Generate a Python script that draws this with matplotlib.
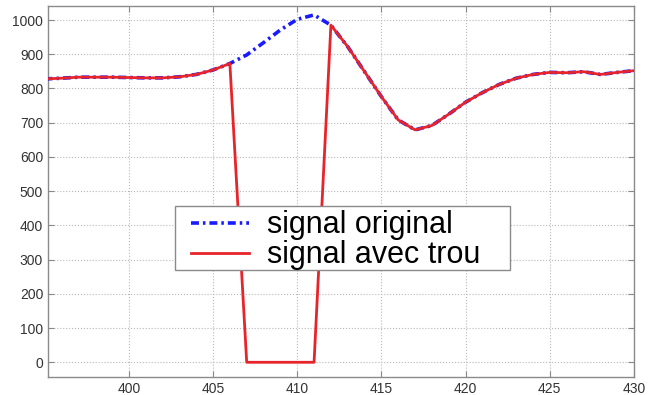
import numpy as np
import matplotlib
matplotlib.use("Agg")
import matplotlib.pyplot as plt
from matplotlib.patches import Rectangle

# Sample indices and signal values
samples = list(range(395, 431))
original = [828, 830, 833, 833, 833, 832, 831, 831, 834, 841, 854,
            873, 898, 934, 971, 1002, 1015, 985, 922, 849, 776, 708,
            679, 692, 725, 760, 788, 812, 830, 841, 847, 846, 849, 841,
            847, 852]
# Samples 407..411 are missing (set to zero) in the holed signal
hole_start, hole_end = 407, 411
with_hole = [0 if hole_start <= s <= hole_end else v
             for s, v in zip(samples, original)]

legend_labels = ["signal original", "signal avec trou"]
x_ticks = [400, 405, 410, 415, 420, 425, 430]
y_ticks = list(range(0, 1001, 100))

plt.rcParams['font.family'] = ['Liberation Sans', 'DejaVu Sans']

fig = plt.figure(figsize=(6.49, 3.95), dpi=100)
ax = fig.add_axes([48 / 649, 1 - 377 / 395, (634 - 48) / 649, (377 - 6) / 395])

ax.plot(samples, original, color='#1a1aff', linestyle=(0, (2.2, 1.1, 0.7, 1.1)),
        linewidth=2.6, label=legend_labels[0], zorder=3)
ax.plot(samples, with_hole, color='#e8242b', linestyle='-', linewidth=2.0,
        label=legend_labels[1], zorder=4)

ax.set_xlim(395.2, 430)
ax.set_ylim(-43, 1041)
ax.set_xticks(x_ticks)
ax.set_yticks(y_ticks)

ax.grid(True, linestyle=':', color='#b8b8b8', linewidth=0.8)
ax.tick_params(direction='in', top=True, right=True, length=4,
               labelsize=10, colors='#333333', color='#888888')
for sp in ax.spines.values():
    sp.set_color('#8a8a8a')
    sp.set_linewidth(1.0)

# Legend box drawn separately so it can be wider than its contents
box = Rectangle((0.2167, 0.288), 0.5716, 0.173, transform=ax.transAxes,
                facecolor='white', edgecolor='#8a8a8a', linewidth=1.0,
                zorder=10)
ax.add_patch(box)
leg = ax.legend(loc='center', bbox_to_anchor=(0.491, 0.368), fontsize=22,
                frameon=False, handlelength=1.9, borderpad=0.1,
                labelspacing=0.0, handletextpad=0.6, borderaxespad=0)
leg.set_zorder(11)

fig.savefig("out.png", dpi=100)
